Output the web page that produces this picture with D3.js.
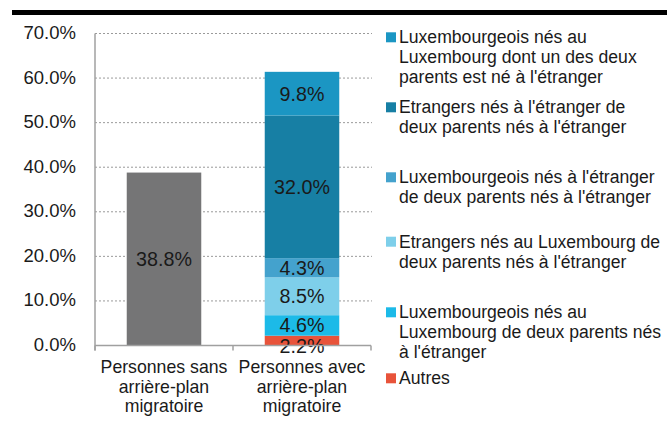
<!DOCTYPE html>
<html>
<head>
<meta charset="utf-8">
<script src="https://cdn.jsdelivr.net/npm/d3@7"></script>
<style>
  html, body { margin: 0; padding: 0; background: #fff; }
  svg { display: block; font-family: "Liberation Sans", Arial, sans-serif; }
</style>
</head>
<body>
<svg id="chart" width="667" height="436"></svg>
<script>
// ---------- data ----------
const categories = [
  ["Personnes sans", "arrière-plan", "migratoire"],
  ["Personnes avec", "arrière-plan", "migratoire"]
];
const yTicks = [0, 10, 20, 30, 40, 50, 60, 70];
const tickLabels = ["0.0%", "10.0%", "20.0%", "30.0%", "40.0%", "50.0%", "60.0%", "70.0%"];

// grey bar (no legend entry)
const sansValue = 38.8;

// stacked series, bottom to top, for "Personnes avec arrière-plan migratoire"
const seriesNames = [
  ["Autres"],
  ["Luxembourgeois nés au", "Luxembourg de deux parents nés", "à l'étranger"],
  ["Etrangers nés au Luxembourg de", "deux parents nés à l'étranger"],
  ["Luxembourgeois nés à l'étranger", "de deux parents nés à l'étranger"],
  ["Etrangers nés à l'étranger de", "deux parents nés à l'étranger"],
  ["Luxembourgeois nés au", "Luxembourg dont un des deux", "parents est né à l'étranger"]
];
const avecValues = [2.2, 4.6, 8.5, 4.3, 32.0, 9.8];
const seriesColors = ["#E8533A", "#1CBAE8", "#7ECFEA", "#44A2CD", "#177FA4", "#1B96C3"];
const greyColor = "#757576";

// ---------- layout ----------
const svg = d3.select("#chart");
const plot = { left: 95, right: 371, top: 33.5, bottom: 345.5 };

// top black rule
svg.append("rect").attr("x", 12).attr("y", 10).attr("width", 655).attr("height", 5).attr("fill", "#000");

const x = d3.scaleBand()
  .domain(d3.range(categories.length))
  .range([plot.left, plot.right])
  .paddingInner(0.46).paddingOuter(0.23);

const y = d3.scaleLinear().domain([0, 70]).range([plot.bottom, plot.top]);

// gridlines
svg.append("g").selectAll("line").data(yTicks.filter(d => d > 0)).join("line")
  .attr("x1", plot.left).attr("x2", plot.right + 1)
  .attr("y1", d => y(d)).attr("y2", d => y(d))
  .attr("stroke", "#9a9a9a").attr("stroke-width", 1).attr("stroke-dasharray", "2,2");

// y tick labels
svg.append("g").selectAll("text").data(yTicks).join("text")
  .attr("x", 76).attr("y", d => y(d) + 5.5)
  .attr("text-anchor", "end")
  .attr("font-size", "18.5px").attr("fill", "#1a1a1a")
  .text((d, i) => tickLabels[i]);

// grey bar
svg.append("rect")
  .attr("x", x(0)).attr("width", x.bandwidth())
  .attr("y", y(sansValue)).attr("height", y(0) - y(sansValue))
  .attr("fill", greyColor);

// stacked bar
const stackData = [];
let acc = 0;
avecValues.forEach((v, i) => {
  stackData.push({ v, y0: acc, y1: acc + v, color: seriesColors[i] });
  acc += v;
});
svg.append("g").selectAll("rect").data(stackData).join("rect")
  .attr("x", x(1)).attr("width", x.bandwidth())
  .attr("y", d => y(d.y1)).attr("height", d => y(d.y0) - y(d.y1))
  .attr("fill", d => d.color);

// data labels (simple collision avoidance, pushing lower labels down)
const labels = [{ cx: x(0) + x.bandwidth() / 2, cy: y(sansValue / 2), t: sansValue.toFixed(1) + "%" }];
const stackLabels = stackData.map(d => ({ cx: x(1) + x.bandwidth() / 2, cy: y((d.y0 + d.y1) / 2), t: d.v.toFixed(1) + "%" }));
for (let i = stackLabels.length - 2; i >= 0; i--) {
  const above = stackLabels[i + 1];
  if (stackLabels[i].cy - above.cy < 21) stackLabels[i].cy = above.cy + 21;
}
labels.push(...stackLabels);
svg.append("g").selectAll("text").data(labels).join("text")
  .attr("x", d => d.cx).attr("y", d => d.cy + 7)
  .attr("text-anchor", "middle")
  .attr("font-size", "19.7px").attr("fill", "#1a1a1a")
  .text(d => d.t);

// axes lines
svg.append("line").attr("x1", plot.left).attr("x2", plot.left)
  .attr("y1", plot.top).attr("y2", plot.bottom + 5)
  .attr("stroke", "#a0a0a0").attr("stroke-width", 1.5);
svg.append("line").attr("x1", plot.left).attr("x2", plot.right)
  .attr("y1", plot.bottom).attr("y2", plot.bottom)
  .attr("stroke", "#a0a0a0").attr("stroke-width", 1.5);
const step = (plot.right - plot.left) / categories.length;
svg.append("g").selectAll("line").data(d3.range(categories.length + 1)).join("line")
  .attr("x1", i => plot.left + i * step).attr("x2", i => plot.left + i * step)
  .attr("y1", plot.bottom).attr("y2", plot.bottom + 5)
  .attr("stroke", "#a0a0a0").attr("stroke-width", 1.5);

// category labels
const catG = svg.append("g").selectAll("text").data(categories).join("text")
  .attr("text-anchor", "middle")
  .attr("font-size", "17.7px").attr("fill", "#1a1a1a");
catG.selectAll("tspan").data((d, i) => d.map(t => ({ t, i }))).join("tspan")
  .attr("x", d => x(d.i) + x.bandwidth() / 2)
  .attr("y", (d, j) => 373 + j * 19.5)
  .text(d => d.t);

// legend (top to bottom = stack top to bottom)
const legendTops = [32.3, 102.3, 172.3, 236.7, 307.3, 373.3];
const legendItems = seriesNames.map((n, i) => ({ lines: n, color: seriesColors[i] })).reverse();
const lg = svg.append("g").selectAll("g").data(legendItems).join("g")
  .attr("transform", (d, i) => `translate(386,${legendTops[i]})`);
lg.append("rect").attr("width", 10).attr("height", 10).attr("fill", d => d.color);
lg.append("text")
  .attr("font-size", "17.6px").attr("fill", "#1a1a1a")
  .selectAll("tspan").data(d => d.lines).join("tspan")
  .attr("x", 13).attr("y", (d, j) => 11 + j * 20)
  .text(d => d);
</script>
</body>
</html>
